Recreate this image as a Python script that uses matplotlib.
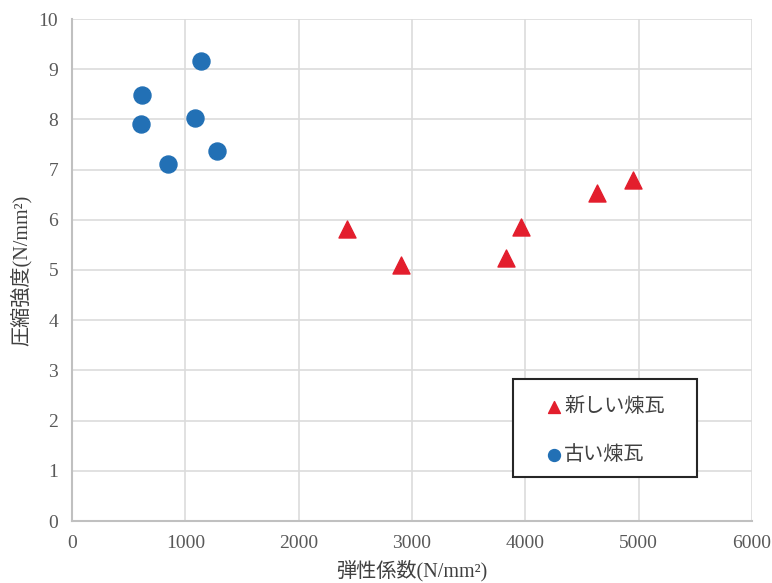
import matplotlib
matplotlib.use("Agg")
import matplotlib.pyplot as plt
from matplotlib.patches import Rectangle

plt.rcParams['font.family'] = ['Liberation Serif', 'Noto Sans CJK JP']

new_label = "新しい煉瓦"
old_label = "古い煉瓦"
new_x = [2427, 2904, 3831, 3963, 4634, 4951]
new_y = [5.82, 5.10, 5.24, 5.86, 6.53, 6.79]
old_x = [618, 609, 847, 1139, 1086, 1280]
old_y = [8.49, 7.91, 7.11, 9.16, 8.03, 7.37]
xticks = [0, 1000, 2000, 3000, 4000, 5000, 6000]
yticks = [0, 1, 2, 3, 4, 5, 6, 7, 8, 9, 10]
xlabel = "弾性係数(N/mm²)"
ylabel = "圧縮強度(N/mm²)"

fig = plt.figure(figsize=(7.72, 5.83), dpi=100)
ax = fig.add_axes([72/772, 62/583, 680/772, 502/583])

grid_c = '#dcdcdc'
ax.set_xlim(0, 6000)
ax.set_ylim(0, 10)
ax.set_xticks(xticks)
ax.set_yticks(yticks)
ax.grid(True, color=grid_c, linewidth=1.2)
ax.set_axisbelow(True)
for s in ['top', 'right']:
    ax.spines[s].set_visible(False)
for s in ['left', 'bottom']:
    ax.spines[s].set_color('#c0c0c0')
    ax.spines[s].set_linewidth(1.5)
ax.tick_params(length=0, labelsize=14, colors='#595959', pad=10)

ax.scatter(new_x, new_y, marker='^', s=150, color='#e31e2d', zorder=3, label=new_label)
ax.scatter(old_x, old_y, marker='o', s=150, color='#2270b5', zorder=3, label=old_label)

ax.set_xlabel(xlabel, fontsize=14.5, color='#404040', labelpad=6)
ax.set_ylabel(ylabel, fontsize=14.5, color='#404040', labelpad=5)

# legend frame
ax.add_patch(Rectangle(((513-72)/680, (521-477)/502), (697-513)/680, (477-379)/502,
                       transform=ax.transAxes, facecolor='white', edgecolor='#262626',
                       linewidth=1.5, zorder=4, clip_on=False))
leg = ax.legend(loc='upper left', bbox_to_anchor=((544-72)/680, (521-398)/502), fontsize=14.5,
                frameon=False, markerscale=0.7,
                labelspacing=1.45, handletextpad=0.0, borderpad=0, handlelength=1.0,
                borderaxespad=0)
leg.set_zorder(5)
for t in leg.get_texts():
    t.set_color('#404040')

fig.savefig('out.png', dpi=100)
